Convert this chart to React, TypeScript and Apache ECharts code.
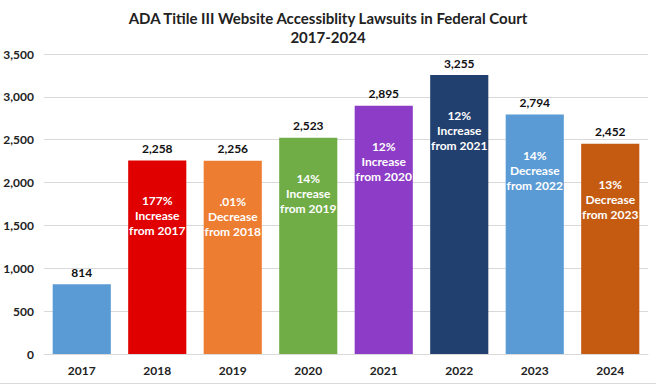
import React, { useEffect, useRef } from "react";
import * as echarts from "echarts";

const categories = ["2017", "2018", "2019", "2020", "2021", "2022", "2023", "2024"];
const values = [814, 2258, 2256, 2523, 2895, 3255, 2794, 2452];
const colors = ["#5B9BD5", "#E00000", "#ED7D31", "#70AD47", "#8C3CC6", "#22406F", "#5B9BD5", "#C55A11"];
const notes = [
  "",
  "177%\nIncrease\nfrom 2017",
  ".01%\nDecrease\nfrom 2018",
  "14%\nIncrease\nfrom 2019",
  "12%\nIncrease\nfrom 2020",
  "12%\nIncrease\nfrom 2021",
  "14%\nDecrease\nfrom 2022",
  "13%\nDecrease\nfrom 2023",
];
const titleLines = ["ADA Titile III Website Accessiblity Lawsuits in Federal Court", "2017-2024"];

const FONT = "Lato, 'Liberation Sans', Arial, sans-serif";

export default function App() {
  const ref = useRef<HTMLDivElement>(null);
  useEffect(() => {
    const chart = echarts.init(ref.current!, null, { renderer: "svg" });
    chart.setOption({
      animation: false,
      backgroundColor: "#ffffff",
      textStyle: { fontFamily: FONT },
      title: {
        text: titleLines.join("\n"),
        left: "center",
        top: 3,
        textStyle: { fontSize: 15, fontWeight: "bold", color: "#222", lineHeight: 19, fontFamily: FONT },
      },
      graphic: [
        {
          type: "line",
          shape: { x1: 0, y1: 383.5, x2: 656, y2: 383.5 },
          style: { stroke: "#D9D9D9", lineWidth: 1 },
        },
      ],
      grid: { left: 44, right: 8, top: 54, bottom: 31, containLabel: false },
      xAxis: {
        type: "category",
        data: categories,
        axisLine: { show: true, lineStyle: { color: "#D9D9D9" } },
        axisTick: { show: false },
        axisLabel: { color: "#222", fontWeight: "bold", fontSize: 12, margin: 10, fontFamily: FONT },
      },
      yAxis: {
        type: "value",
        min: 0,
        max: 3500,
        interval: 500,
        axisLine: { show: false },
        axisTick: { show: false },
        splitLine: { lineStyle: { color: "#D9D9D9" } },
        axisLabel: {
          color: "#222",
          fontWeight: "bold",
          fontSize: 12,
          margin: 10,
          fontFamily: FONT,
          formatter: (v: number) => v.toLocaleString("en-US"),
        },
      },
      series: [
        {
          type: "bar",
          barWidth: "77%",
          data: values.map((v, i) => ({ value: v, itemStyle: { color: colors[i] } })),
          label: {
            show: true,
            position: "top",
            distance: 6,
            color: "#111",
            fontWeight: "bold",
            fontSize: 12,
            fontFamily: FONT,
            formatter: (p: any) => Number(p.value).toLocaleString("en-US"),
          },
          z: 2,
        },
        {
          type: "bar",
          barWidth: "77%",
          barGap: "-100%",
          data: values.map((v) => v),
          itemStyle: { color: "rgba(0,0,0,0)" },
          label: {
            show: true,
            position: "insideTop",
            distance: 33,
            color: "#ffffff",
            fontWeight: "bold",
            fontSize: 12,
            lineHeight: 15,
            fontFamily: FONT,
            formatter: (p: any) => notes[p.dataIndex],
          },
          z: 3,
        },
      ],
    });
    return () => chart.dispose();
  }, []);
  return (
    <div
      ref={ref}
      style={{ position: "absolute", left: 0, top: 0, width: 656, height: 385 }}
    />
  );
}
